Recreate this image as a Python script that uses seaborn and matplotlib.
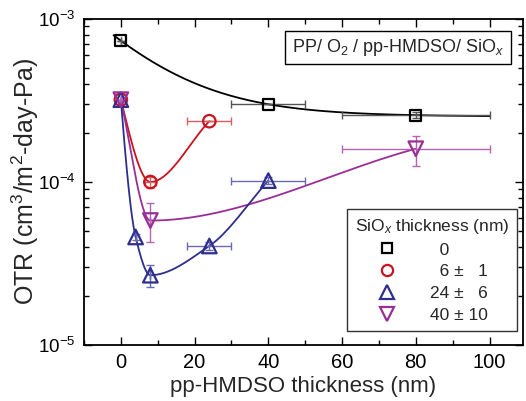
import numpy as np
import pandas as pd
import matplotlib
matplotlib.use("Agg")
import matplotlib.pyplot as plt
from matplotlib.lines import Line2D
from matplotlib.ticker import MultipleLocator, LogLocator, NullFormatter
import seaborn as sns

# ---------------- data ----------------
x_black = [0, 40, 80]
y_black = [7.36e-4, 3.0e-4, 2.57e-4]
xerr_black = [0, 10, 20]
yerr_black = [0, 0, 0.1e-4]

x_red = [0, 8, 24]
y_red = [3.2e-4, 1.0e-4, 2.36e-4]
xerr_red = [0, 1.5, 6]
yerr_red_lo = [0, 0.08e-4, 0]
yerr_red_hi = [0, 0.08e-4, 0]

x_blue = [0, 4, 8, 24, 40]
y_blue = [3.2e-4, 4.6e-5, 2.68e-5, 4.05e-5, 1.02e-4]
xerr_blue = [0, 0, 0, 6, 10]
yerr_blue_lo = [0, 0.2e-5, 0.41e-5, 0.25e-5, 0.05e-4]
yerr_blue_hi = [0, 0.2e-5, 0.42e-5, 0.25e-5, 0.05e-4]

x_purple = [0, 8, 80]
y_purple = [3.2e-4, 5.8e-5, 1.6e-4]
xerr_purple = [0, 0, 20]
yerr_purple_lo = [0, 1.5e-5, 0.34e-4]
yerr_purple_hi = [0, 1.6e-5, 0.31e-4]

FS = "\u2007"  # figure space (digit width) for column alignment
legend_labels = [FS + "0", FS + "6 \u00b1 " + FS + "1", "24 \u00b1 " + FS + "6", "40 \u00b1 10"]
legend_title = "SiO$_x$ thickness (nm)"
box_text = "PP/ O$_2$ / pp-HMDSO/ SiO$_x$"
xlabel = "pp-HMDSO thickness (nm)"
ylabel = "OTR (cm$^3$/m$^2$-day-Pa)"

# ---------------- styles ----------------
c_black, c_red, c_blue, c_purple = "#000000", "#C8141E", "#2E2E8E", "#9A2E96"
e_black, e_red, e_blue, e_purple = "#555555", "#D86060", "#6A6AB4", "#B464B0"

sns.set_theme(style="ticks")
plt.rcParams["font.family"] = ["Liberation Sans", "DejaVu Sans"]
plt.rcParams["mathtext.fontset"] = "custom"
plt.rcParams["mathtext.rm"] = "Liberation Sans"
plt.rcParams["mathtext.it"] = "Liberation Sans:italic"
plt.rcParams["mathtext.bf"] = "Liberation Sans:bold"


def pchip_like(x, y, xn):
    """Monotone cubic Hermite connector (start slope: 3-point formula, end slope: secant)."""
    x = np.asarray(x, float); y = np.asarray(y, float)
    h = np.diff(x); d = np.diff(y) / h
    n = len(x); m = np.zeros(n)
    for k in range(1, n - 1):
        if d[k - 1] * d[k] > 0:
            w1 = 2 * h[k] + h[k - 1]; w2 = h[k] + 2 * h[k - 1]
            m[k] = (w1 + w2) / (w1 / d[k - 1] + w2 / d[k])
    s = ((2 * h[0] + h[1]) * d[0] - h[0] * d[1]) / (h[0] + h[1])
    if np.sign(s) != np.sign(d[0]):
        s = 0.0
    elif np.sign(d[0]) != np.sign(d[1]) and abs(s) > abs(3 * d[0]):
        s = 3 * d[0]
    m[0] = s
    m[-1] = d[-1]
    out = np.empty_like(xn)
    for i, xv in enumerate(xn):
        k = min(max(np.searchsorted(x, xv) - 1, 0), n - 2)
        t = (xv - x[k]) / h[k]
        h00 = 2 * t**3 - 3 * t**2 + 1; h10 = t**3 - 2 * t**2 + t
        h01 = -2 * t**3 + 3 * t**2; h11 = t**3 - t**2
        out[i] = h00 * y[k] + h10 * h[k] * m[k] + h01 * y[k + 1] + h11 * h[k] * m[k + 1]
    return out


def smooth(xs, ys, npts=300):
    xn = np.linspace(min(xs), max(xs), npts)
    return xn, 10 ** pchip_like(xs, np.log10(ys), xn)


def expfit(xs, ys, xn):
    xs = np.asarray(xs, float); ys = np.asarray(ys, float)
    best = None
    for tau in np.linspace(2, 100, 2000):
        A = np.vstack([np.ones_like(xs), np.exp(-xs / tau)]).T
        coef, *_ = np.linalg.lstsq(A, ys, rcond=None)
        r = np.sum((A @ coef - ys) ** 2)
        if best is None or r < best[0]:
            best = (r, tau, coef)
    _, tau, coef = best
    return coef[0] + coef[1] * np.exp(-xn / tau)


fig = plt.figure(figsize=(5.26, 4.01), dpi=100)
ax = fig.add_axes([0.1597, 0.1397, 0.8340, 0.8129])

# curves
xb = np.linspace(-2, 100, 300)
curves = [
    (xb, expfit(x_black, y_black, xb), c_black),
    (*smooth(x_red, y_red), c_red),
    (*smooth(x_purple, y_purple), c_purple),
    (*smooth(x_blue, y_blue), c_blue),
]
for cx, cy, col in curves:
    sns.lineplot(x=cx, y=cy, ax=ax, color=col, lw=1.3, sort=False, estimator=None)

# error bars
ax.errorbar(x_black, y_black, xerr=xerr_black, yerr=yerr_black, fmt="none", ecolor=e_black, elinewidth=1.0, capsize=3)
ax.errorbar(x_red, y_red, xerr=xerr_red, yerr=[yerr_red_lo, yerr_red_hi], fmt="none", ecolor=e_red, elinewidth=1.0, capsize=3)
ax.errorbar(x_blue, y_blue, xerr=xerr_blue, yerr=[yerr_blue_lo, yerr_blue_hi], fmt="none", ecolor=e_blue, elinewidth=1.0, capsize=3)
ax.errorbar(x_purple, y_purple, xerr=xerr_purple, yerr=[yerr_purple_lo, yerr_purple_hi], fmt="none", ecolor=e_purple, elinewidth=1.0, capsize=3)

# markers
series = [
    (x_black, y_black, c_black, "s", 62),
    (x_red, y_red, c_red, "o", 80),
    (x_blue, y_blue, c_blue, "^", 110),
    (x_purple, y_purple, c_purple, "v", 110),
]
for xs, ys, col, mk, s in series:
    sns.scatterplot(x=xs, y=ys, ax=ax, marker=mk, s=s, facecolors="none",
                    edgecolor=col, linewidth=1.6, zorder=5, legend=False)

ax.set_yscale("log")
ax.set_xlim(-10, 109)
ax.set_ylim(1e-5, 1e-3)
ax.xaxis.set_major_locator(MultipleLocator(20))
ax.xaxis.set_minor_locator(MultipleLocator(10))
ax.yaxis.set_major_locator(LogLocator(base=10, numticks=5))
ax.yaxis.set_minor_locator(LogLocator(base=10, subs=np.arange(2, 10), numticks=20))
ax.yaxis.set_minor_formatter(NullFormatter())
ax.tick_params(which="both", direction="in", top=True, right=True, colors="black",
               width=1.0)
ax.tick_params(axis="x", labelsize=14.5)
ax.tick_params(axis="y", labelsize=13.5)
ax.tick_params(which="major", length=6, pad=6)
ax.tick_params(which="minor", length=3.5)
for sp in ax.spines.values():
    sp.set_linewidth(1.3)
    sp.set_color("black")

ax.set_xlabel(xlabel, fontsize=16, labelpad=3)
ax.set_ylabel(ylabel, fontsize=18)
ax.yaxis.set_label_coords((41 - 84) / 438.7, 0.5)

ax.text(0.716, 0.913, box_text, transform=ax.transAxes, ha="center", va="center",
        fontsize=13, bbox=dict(boxstyle="square,pad=0.35", fc="white", ec="black", lw=1.0))

handles = [Line2D([], [], ls="none", marker=mk, markersize=np.sqrt(s) * 0.9,
                  markerfacecolor="none", markeredgecolor=col, markeredgewidth=1.6)
           for _, _, col, mk, s in series]
leg = fig.legend(handles, legend_labels, title=legend_title, loc="upper left",
                 bbox_to_anchor=(347 / 526, 1 - 209 / 401), bbox_transform=fig.transFigure,
                 borderaxespad=0, fontsize=12.5, title_fontsize=12.5, frameon=True,
                 fancybox=False, edgecolor="black", handletextpad=0.65,
                 labelspacing=0.38, borderpad=0.45, handlelength=3.7)
leg.get_frame().set_linewidth(1.0)
leg._legend_box.align = "left"

fig.savefig("out.png", dpi=100)
